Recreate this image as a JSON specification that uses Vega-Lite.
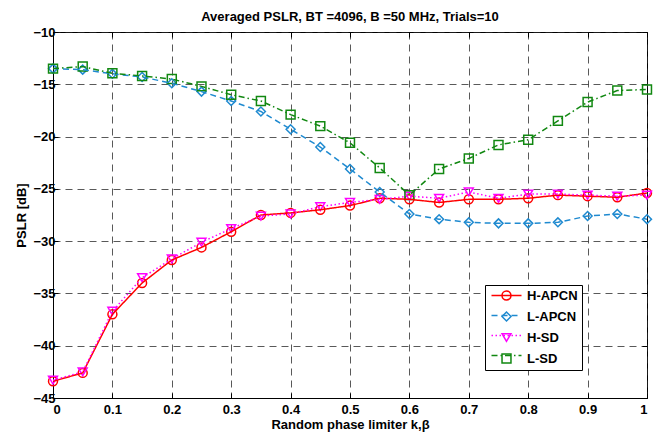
{
  "$schema": "https://vega.github.io/schema/vega-lite/v6.json",
  "width": 594,
  "height": 366,
  "autosize": {"type": "none"},
  "padding": {"left": 53, "top": 32, "right": 23, "bottom": 39},
  "background": "white",
  "title": {"text": "Averaged PSLR, BT =4096, B =50 MHz, Trials=10", "font": "Liberation Sans", "fontSize": 13, "fontWeight": "bold", "color": "black", "offset": 2},
  "config": {
    "view": {"stroke": "black", "strokeWidth": 1},
    "axis": {"labelFont": "Liberation Sans", "labelFontSize": 13, "labelFontWeight": "bold", "labelColor": "black", "titleFont": "Liberation Sans", "titleFontSize": 13, "titleFontWeight": "bold", "titleColor": "black", "domainColor": "black", "tickColor": "black", "gridColor": "#222222", "gridDash": [7, 5], "gridOpacity": 0.75, "tickSize": -5}
  },
  "data": {"values": [
    {"s":"H-APCN","k":0,"v":-43.4},{"s":"H-APCN","k":0.05,"v":-42.6},{"s":"H-APCN","k":0.1,"v":-37.0},{"s":"H-APCN","k":0.15,"v":-34.0},{"s":"H-APCN","k":0.2,"v":-31.8},{"s":"H-APCN","k":0.25,"v":-30.6},{"s":"H-APCN","k":0.3,"v":-29.1},{"s":"H-APCN","k":0.35,"v":-27.5},{"s":"H-APCN","k":0.4,"v":-27.3},{"s":"H-APCN","k":0.45,"v":-27.0},{"s":"H-APCN","k":0.5,"v":-26.6},{"s":"H-APCN","k":0.55,"v":-25.9},{"s":"H-APCN","k":0.6,"v":-26.0},{"s":"H-APCN","k":0.65,"v":-26.3},{"s":"H-APCN","k":0.7,"v":-26.0},{"s":"H-APCN","k":0.75,"v":-26.0},{"s":"H-APCN","k":0.8,"v":-25.9},{"s":"H-APCN","k":0.85,"v":-25.6},{"s":"H-APCN","k":0.9,"v":-25.7},{"s":"H-APCN","k":0.95,"v":-25.8},{"s":"H-APCN","k":1,"v":-25.4},
    {"s":"L-APCN","k":0,"v":-13.5},{"s":"L-APCN","k":0.05,"v":-13.6},{"s":"L-APCN","k":0.1,"v":-14.0},{"s":"L-APCN","k":0.15,"v":-14.3},{"s":"L-APCN","k":0.2,"v":-14.9},{"s":"L-APCN","k":0.25,"v":-15.7},{"s":"L-APCN","k":0.3,"v":-16.6},{"s":"L-APCN","k":0.35,"v":-17.6},{"s":"L-APCN","k":0.4,"v":-19.3},{"s":"L-APCN","k":0.45,"v":-21.0},{"s":"L-APCN","k":0.5,"v":-23.1},{"s":"L-APCN","k":0.55,"v":-25.3},{"s":"L-APCN","k":0.6,"v":-27.4},{"s":"L-APCN","k":0.65,"v":-27.9},{"s":"L-APCN","k":0.7,"v":-28.2},{"s":"L-APCN","k":0.75,"v":-28.3},{"s":"L-APCN","k":0.8,"v":-28.3},{"s":"L-APCN","k":0.85,"v":-28.2},{"s":"L-APCN","k":0.9,"v":-27.6},{"s":"L-APCN","k":0.95,"v":-27.4},{"s":"L-APCN","k":1,"v":-27.9},
    {"s":"H-SD","k":0,"v":-43.3},{"s":"H-SD","k":0.05,"v":-42.5},{"s":"H-SD","k":0.1,"v":-36.7},{"s":"H-SD","k":0.15,"v":-33.5},{"s":"H-SD","k":0.2,"v":-31.7},{"s":"H-SD","k":0.25,"v":-30.1},{"s":"H-SD","k":0.3,"v":-28.8},{"s":"H-SD","k":0.35,"v":-27.6},{"s":"H-SD","k":0.4,"v":-27.4},{"s":"H-SD","k":0.45,"v":-26.7},{"s":"H-SD","k":0.5,"v":-26.3},{"s":"H-SD","k":0.55,"v":-26.0},{"s":"H-SD","k":0.6,"v":-25.7},{"s":"H-SD","k":0.65,"v":-25.9},{"s":"H-SD","k":0.7,"v":-25.3},{"s":"H-SD","k":0.75,"v":-25.9},{"s":"H-SD","k":0.8,"v":-25.5},{"s":"H-SD","k":0.85,"v":-25.5},{"s":"H-SD","k":0.9,"v":-25.6},{"s":"H-SD","k":0.95,"v":-25.7},{"s":"H-SD","k":1,"v":-25.6},
    {"s":"L-SD","k":0,"v":-13.5},{"s":"L-SD","k":0.05,"v":-13.3},{"s":"L-SD","k":0.1,"v":-13.95},{"s":"L-SD","k":0.15,"v":-14.2},{"s":"L-SD","k":0.2,"v":-14.5},{"s":"L-SD","k":0.25,"v":-15.2},{"s":"L-SD","k":0.3,"v":-16.0},{"s":"L-SD","k":0.35,"v":-16.6},{"s":"L-SD","k":0.4,"v":-17.9},{"s":"L-SD","k":0.45,"v":-19.0},{"s":"L-SD","k":0.5,"v":-20.6},{"s":"L-SD","k":0.55,"v":-23.0},{"s":"L-SD","k":0.6,"v":-25.6},{"s":"L-SD","k":0.65,"v":-23.1},{"s":"L-SD","k":0.7,"v":-22.1},{"s":"L-SD","k":0.75,"v":-20.8},{"s":"L-SD","k":0.8,"v":-20.3},{"s":"L-SD","k":0.85,"v":-18.5},{"s":"L-SD","k":0.9,"v":-16.7},{"s":"L-SD","k":0.95,"v":-15.6},{"s":"L-SD","k":1,"v":-15.5}
  ]},
  "resolve": {"axis": {"x": "independent", "y": "independent"}},
  "layer": [
    {"mark": {"type": "point", "filled": false, "strokeWidth": 1.5, "size": 80, "opacity": 1},
     "encoding": {
       "x": {"field": "k", "type": "quantitative", "scale": {"domain": [0, 1], "nice": false}, "axis": {"title": "Random phase limiter k,β", "values": [0,0.1,0.2,0.3,0.4,0.5,0.6,0.7,0.8,0.9,1], "format": "~g", "titlePadding": 2, "labelPadding": 10}},
       "y": {"field": "v", "type": "quantitative", "scale": {"domain": [-45, -10], "nice": false}, "axis": {"title": "PSLR [dB]", "values": [-45,-40,-35,-30,-25,-20,-15,-10], "titlePadding": 4, "labelPadding": 3}},
       "color": {"field": "s", "type": "nominal", "scale": {"domain": ["H-APCN","L-APCN","H-SD","L-SD"], "range": ["#ff0000", "#1f8ad0", "#ff00ff", "#118811"]},
         "legend": {"title": null, "orient": "none", "legendX": 432, "legendY": 253, "fillColor": "white", "strokeColor": "black", "padding": 4, "symbolSize": 80, "symbolStrokeWidth": 1.5, "symbolOffset": 11, "labelFont": "Liberation Sans", "labelFontSize": 13, "labelFontWeight": "bold", "labelColor": "black", "rowPadding": 6, "labelOffset": 14, "labelExpr": "datum.label + '                 '"}},
       "shape": {"field": "s", "type": "nominal", "scale": {"domain": ["H-APCN","L-APCN","H-SD","L-SD"], "range": ["circle","diamond","triangle-down","square"]},
         "legend": {"title": null, "orient": "none", "legendX": 432, "legendY": 253, "fillColor": "white", "strokeColor": "black", "padding": 4, "symbolSize": 80, "symbolStrokeWidth": 1.5, "symbolOffset": 11, "labelFont": "Liberation Sans", "labelFontSize": 13, "labelFontWeight": "bold", "labelColor": "black", "rowPadding": 6, "labelOffset": 14, "labelExpr": "datum.label + '                 '"}}}},
    {"mark": {"type": "line", "strokeWidth": 1.5},
     "encoding": {
       "x": {"field": "k", "type": "quantitative", "axis": {"orient": "top", "title": null, "labels": false, "grid": false, "domain": false, "values": [0,0.1,0.2,0.3,0.4,0.5,0.6,0.7,0.8,0.9,1]}},
       "y": {"field": "v", "type": "quantitative", "axis": {"orient": "right", "title": null, "labels": false, "grid": false, "domain": false, "values": [-45,-40,-35,-30,-25,-20,-15,-10]}},
       "stroke": {"field": "s", "type": "nominal", "scale": {"domain": ["H-APCN","H-SD","L-APCN","L-SD"], "range": ["#ff0000", "#ff00ff", "#1f8ad0", "#118811"]},
         "legend": {"title": null, "orient": "none", "legendX": 432, "legendY": 253, "values": ["H-APCN","L-APCN","H-SD","L-SD"], "padding": 4, "symbolType": "M-3,0H3", "symbolSize": 100, "symbolStrokeWidth": 1.5, "symbolOffset": 11, "labelFont": "Liberation Sans", "labelFontSize": 13, "labelFontWeight": "bold", "rowPadding": 6, "labelExpr": "''"}},
       "strokeDash": {"field": "s", "type": "nominal", "scale": {"domain": ["H-APCN","H-SD","L-APCN","L-SD"], "range": [[1,0],[1.5,2.5],[6,4],[6,3,1.5,3]]},
         "legend": {"title": null, "orient": "none", "legendX": 432, "legendY": 253, "values": ["H-APCN","L-APCN","H-SD","L-SD"], "padding": 4, "symbolType": "M-3,0H3", "symbolSize": 100, "symbolStrokeWidth": 1.5, "symbolOffset": 11, "labelFont": "Liberation Sans", "labelFontSize": 13, "labelFontWeight": "bold", "rowPadding": 6, "labelExpr": "''"}}}}
  ]
}
